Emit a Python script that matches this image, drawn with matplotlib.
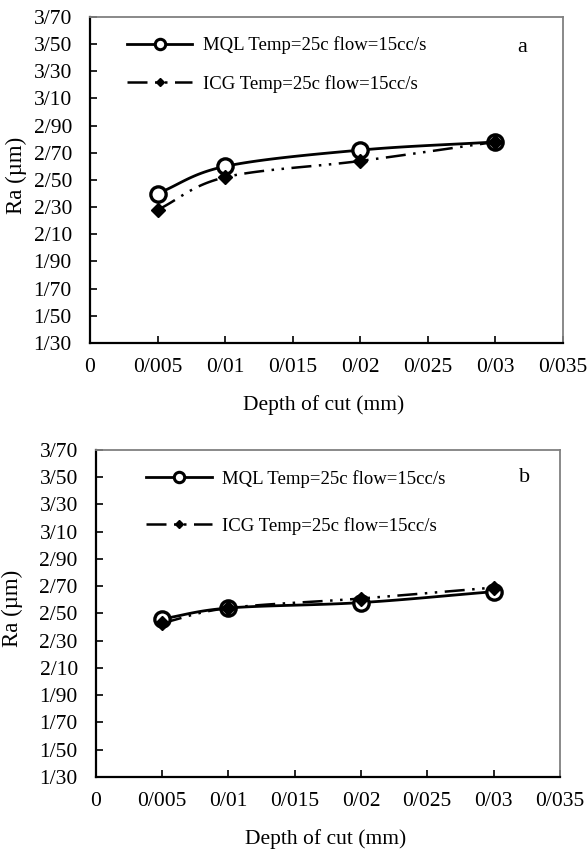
import matplotlib.pyplot as plt
import numpy as np

plt.rcParams['font.family'] = ['Liberation Serif', 'DejaVu Serif']

depth = [0.005, 0.01, 0.02, 0.03]
mql_a = [2.40, 2.60, 2.72, 2.78]
icg_a = [2.28, 2.52, 2.64, 2.78]
mql_b = [2.46, 2.54, 2.58, 2.66]
icg_b = [2.43, 2.54, 2.61, 2.69]

lbl_mql = "MQL Temp=25c flow=15cc/s"
lbl_icg = "ICG Temp=25c flow=15cc/s"
x_ticks = [0, 0.005, 0.01, 0.015, 0.02, 0.025, 0.03, 0.035]
y_ticks = [1.30, 1.50, 1.70, 1.90, 2.10, 2.30, 2.50, 2.70, 2.90, 3.10, 3.30, 3.50, 3.70]

tirets = (8, 3, 1, 3, 1, 3)


def lisse(x, y, n=30):
    # courbe lissée type Catmull-Rom entre les points
    x = np.asarray(x, float)
    y = np.asarray(y, float)
    px = np.concatenate([[2*x[0]-x[1]], x, [2*x[-1]-x[-2]]])
    py = np.concatenate([[2*y[0]-y[1]], y, [2*y[-1]-y[-2]]])
    xs, ys = [], []
    for i in range(1, len(px)-2):
        t = np.linspace(0, 1, n)
        for p, out in ((px, xs), (py, ys)):
            p0, p1, p2, p3 = p[i-1], p[i], p[i+1], p[i+2]
            out.extend(0.5*((2*p1) + (-p0+p2)*t + (2*p0-5*p1+4*p2-p3)*t**2 + (-p0+3*p1-3*p2+p3)*t**3))
    return xs, ys


def fmt(v, dec=None):
    if dec is None:
        s = ('%.3f' % v).rstrip('0').rstrip('.')
    else:
        s = '%.*f' % (dec, v)
    return s.replace('.', '/')


def panel(ax, mql, icg, lettre, pos_leg, esp_leg, pos_lettre, ylab_xy):
    xs, ys = lisse(depth, mql)
    ax.plot(xs, ys, color='black', lw=2)
    ax.plot(depth, mql, 'o', mfc='white', mec='black', mew=2.4, ms=11, zorder=4)
    xs, ys = lisse(depth, icg)
    ax.plot(xs, ys, color='black', lw=1.8, dashes=tirets)
    ax.plot(depth, icg, 'D', color='black', ms=7, zorder=5)
    # légende
    h1, = ax.plot([], [], color='black', lw=2, marker='o', mfc='white', mec='black', mew=2.2, ms=7.5)
    h2, = ax.plot([], [], color='black', lw=1.8, dashes=tirets, marker='D', ms=4.5)
    ax.legend([h1, h2], [lbl_mql, lbl_icg], loc='upper left', bbox_to_anchor=pos_leg, frameon=False,
              fontsize=13.5, handlelength=3.5, labelspacing=esp_leg, handletextpad=0.55,
              borderpad=0, borderaxespad=0)
    ax.text(pos_lettre[0], pos_lettre[1], lettre, transform=ax.transAxes, fontsize=16, ha='center', va='center')
    ax.set_xlim(0, 0.035)
    ax.set_ylim(1.30, 3.70)
    ax.set_xticks(x_ticks)
    ax.set_xticklabels([fmt(v) for v in x_ticks])
    ax.set_yticks(y_ticks)
    ax.set_yticklabels([fmt(v, 2) for v in y_ticks])
    ax.tick_params(direction='in', length=5, width=1.2, labelsize=15.5)
    ax.tick_params(axis='x', pad=10.5)
    ax.tick_params(axis='y', pad=13)
    for s in ['left', 'bottom']:
        ax.spines[s].set_linewidth(1.6)
    for s in ['top', 'right']:
        ax.spines[s].set_color('#808080')
        ax.spines[s].set_linewidth(1.3)
    ax.tick_params(top=False, right=False)
    ax.set_xlabel('Depth of cut (mm)', fontsize=15.5)
    ax.xaxis.set_label_coords(0.495, -0.16)
    ax.set_ylabel('Ra (µm)', fontsize=16.5)
    ax.yaxis.set_label_coords(ylab_xy[0], ylab_xy[1])


fig = plt.figure(figsize=(5.88, 8.5), dpi=100)
ax1 = fig.add_axes([0.153, 0.5965, 0.804, 0.3835])
ax2 = fig.add_axes([0.163, 0.0859, 0.789, 0.3847])
panel(ax1, mql_a, icg_a, 'a', (0.078, 0.94), 1.1, (0.915, 0.905), (-0.133, 0.515))
panel(ax2, mql_b, icg_b, 'b', (0.108, 0.939), 1.55, (0.925, 0.917), (-0.157, 0.517))
plt.savefig('out.png', dpi=100)
plt.close()
